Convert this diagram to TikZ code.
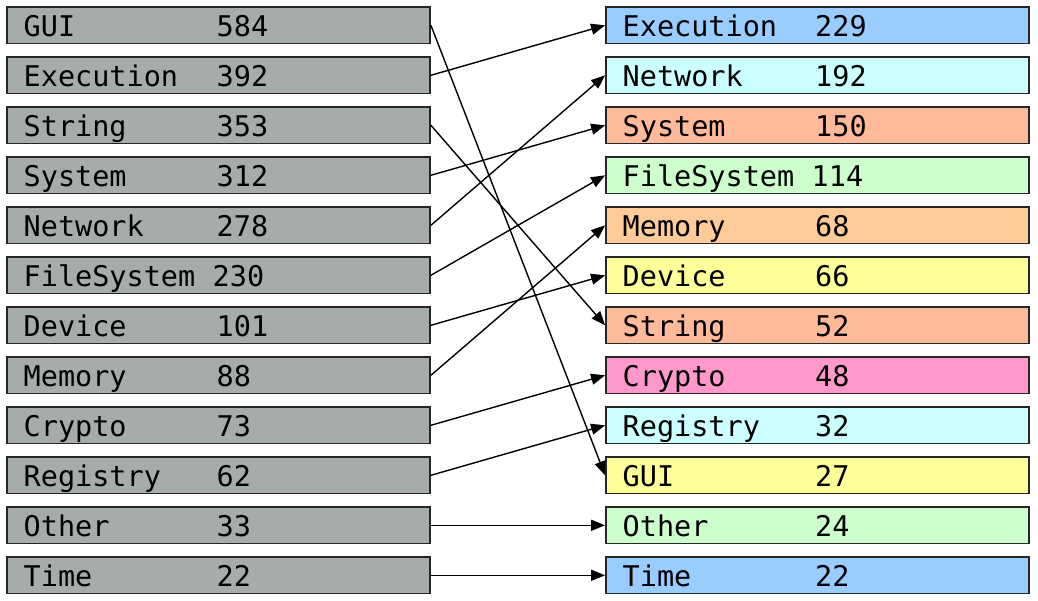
\documentclass[tikz,border=0pt]{standalone}
\usepackage{fontspec}
\setmonofont{DejaVu Sans Mono}
\usetikzlibrary{arrows.meta}
\definecolor{lgray}{RGB}{165,172,169}
\definecolor{cblue}{RGB}{153,204,255}
\definecolor{ccyan}{RGB}{204,255,255}
\definecolor{csalmon}{RGB}{255,187,153}
\definecolor{cgreen}{RGB}{204,255,204}
\definecolor{corange}{RGB}{255,204,153}
\definecolor{cyellow}{RGB}{255,255,153}
\definecolor{cpink}{RGB}{255,153,204}
\begin{document}
\begin{tikzpicture}[x=1pt,y=-1pt,
  box/.style={draw=black!85, line width=1.6pt, minimum width=423pt, minimum height=36.5pt, inner sep=0pt},
  lbl/.style={anchor=base west, inner sep=0pt, font=\fontsize{28.5}{30}\selectfont\ttfamily},
  conn/.style={line width=1.4pt, -{Triangle[length=14pt,width=11pt]}}]
\useasboundingbox (0,0) rectangle (1038,601);
% left column
\foreach \n/\v/\xv [count=\i from 0] in {GUI/584/216.5, Execution/392/216.5, String/353/216.5, System/312/216.5, Network/278/216.5, FileSystem/230/212.5, Device/101/216.5, Memory/88/216.5, Crypto/73/216.5, Registry/62/216.5, Other/33/216.5, Time/22/216.5}{
  \node[box, fill=lgray] (L\i) at (218.6, 25.3+50*\i) {};
  \node[lbl] (Lt\i) at (23.5, 36.3+50*\i) {\n};
  \node[lbl] (Lv\i) at (\xv, 36.3+50*\i) {\v};
}
% right column
\foreach \n/\v/\xv/\c [count=\i from 0] in {Execution/229/815/cblue, Network/192/815/ccyan, System/150/815/csalmon, FileSystem/114/811.5/cgreen, Memory/68/815/corange, Device/66/815/cyellow, String/52/815/csalmon, Crypto/48/815/cpink, Registry/32/815/ccyan, GUI/27/815/cyellow, Other/24/815/cgreen, Time/22/815/cblue}{
  \node[box, fill=\c] (R\i) at (817.4, 25.3+50*\i) {};
  \node[lbl] (Rt\i) at (622.5, 36.3+50*\i) {\n};
  \node[lbl] (Rv\i) at (\xv, 36.3+50*\i) {\v};
}
% connectors
\foreach \a/\b in {0/9, 1/0, 2/6, 3/2, 4/1, 5/3, 6/5, 7/4, 8/7, 9/8, 10/10, 11/11}{
  \draw[conn] (L\a.east) -- (R\b.west);
}
\end{tikzpicture}
\end{document}
